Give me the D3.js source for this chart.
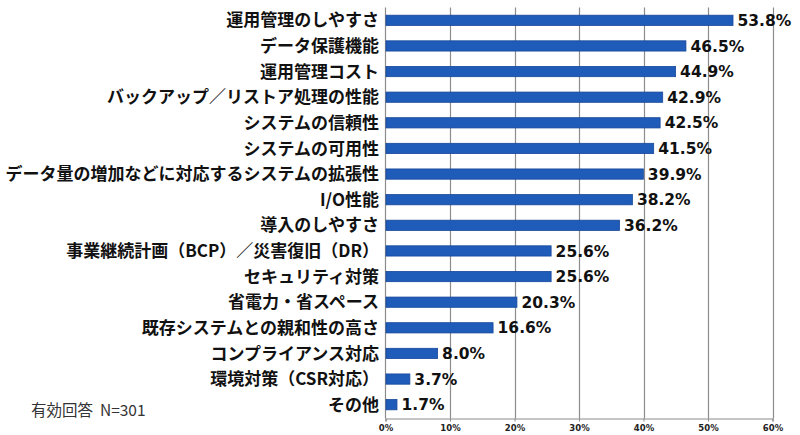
<!DOCTYPE html>
<html>
<head>
<meta charset="utf-8">
<script src="https://cdn.jsdelivr.net/npm/d3@7/dist/d3.min.js"></script>
<style>
  body { margin: 0; background: #fff; }
  svg { display: block; }
</style>
</head>
<body>
<div id="chart"></div>
<script>
const categories = [
    "運用管理のしやすさ",
    "データ保護機能",
    "運用管理コスト",
    "バックアップ／リストア処理の性能",
    "システムの信頼性",
    "システムの可用性",
    "データ量の増加などに対応するシステムの拡張性",
    "I/O性能",
    "導入のしやすさ",
    "事業継続計画（BCP）／災害復旧（DR）",
    "セキュリティ対策",
    "省電力・省スペース",
    "既存システムとの親和性の高さ",
    "コンプライアンス対応",
    "環境対策（CSR対応）",
    "その他"
];
const values = [53.8, 46.5, 44.9, 42.9, 42.5, 41.5, 39.9, 38.2, 36.2, 25.6, 25.6, 20.3, 16.6, 8.0, 3.7, 1.7];
const xTicks = [0, 10, 20, 30, 40, 50, 60];
const note = "有効回答\u00a0 N=301";

const width = 800;
const height = 435;

const svg = d3.select("#chart")
    .append("svg")
    .attr("width", width)
    .attr("height", height);

const x = d3.scaleLinear()
    .domain([0, 60])
    .range([385.5, 772.5]);

const y = d3.scaleBand()
    .domain(categories)
    .range([7.5, 417.5])
    .paddingInner(0.6)
    .paddingOuter(0.3);

const plotTop = 7.5, plotBottom = 418.5;

// grid lines
svg.append("g")
    .selectAll("line")
    .data(xTicks.slice(1))
    .enter().append("line")
    .attr("x1", d => Math.round(x(d)) + 0.5)
    .attr("x2", d => Math.round(x(d)) + 0.5)
    .attr("y1", plotTop)
    .attr("y2", plotBottom)
    .attr("stroke", "#8c8c8c")
    .attr("stroke-width", 1.2);

// x axis
const xAxis = d3.axisBottom(x)
    .tickValues(xTicks)
    .tickFormat(d => d + "%")
    .tickSize(3);

const gx = svg.append("g")
    .attr("transform", `translate(0,${plotBottom})`)
    .call(xAxis);
gx.select(".domain").attr("stroke", "#8c8c8c").attr("stroke-width", 1.2);
gx.selectAll(".tick line").attr("stroke", "#8c8c8c");
gx.selectAll("text")
    .attr("dy", "0.72em")
    .attr("y", 6)
    .style("font-family", "'DejaVu Sans', Verdana, sans-serif")
    .style("font-weight", "bold")
    .style("font-size", "8.5px")
    .attr("fill", "#222");

// left axis line
svg.append("line")
    .attr("x1", x(0))
    .attr("x2", x(0))
    .attr("y1", plotTop)
    .attr("y2", plotBottom)
    .attr("stroke", "#8c8c8c")
    .attr("stroke-width", 1.2);

// bars
svg.append("g")
    .selectAll("rect")
    .data(values)
    .enter().append("rect")
    .attr("x", x(0) + 0.5)
    .attr("y", (d, i) => y(categories[i]))
    .attr("width", d => x(d) - x(0))
    .attr("height", y.bandwidth())
    .attr("fill", "#1f5bb8")
    .attr("stroke", "#17489a")
    .attr("stroke-width", 0.8);

// value labels
svg.append("g")
    .selectAll("text")
    .data(values)
    .enter().append("text")
    .attr("x", d => x(d) + 5)
    .attr("y", (d, i) => y(categories[i]) + y.bandwidth() / 2)
    .attr("dy", "0.36em")
    .style("font-family", "'DejaVu Sans', Verdana, sans-serif")
    .style("font-weight", "bold")
    .style("font-size", "15.5px")
    .attr("fill", "#111")
    .text(d => d.toFixed(1) + "%");

// category labels
svg.append("g")
    .selectAll("text")
    .data(categories)
    .enter().append("text")
    .attr("x", 379)
    .attr("y", d => y(d) + y.bandwidth() / 2)
    .attr("dy", "0.36em")
    .attr("text-anchor", "end")
    .style("font-family", "'Noto Sans CJK JP', sans-serif")
    .style("font-weight", "bold")
    .style("font-size", "17px")
    .attr("fill", "#111")
    .text(d => d);

// note
svg.append("text")
    .attr("x", 31)
    .attr("y", 410)
    .attr("dy", "0.36em")
    .style("font-family", "'Noto Sans CJK JP', sans-serif")
    .style("font-size", "15.5px")
    .attr("fill", "#333")
    .text(note);
</script>
</body>
</html>
